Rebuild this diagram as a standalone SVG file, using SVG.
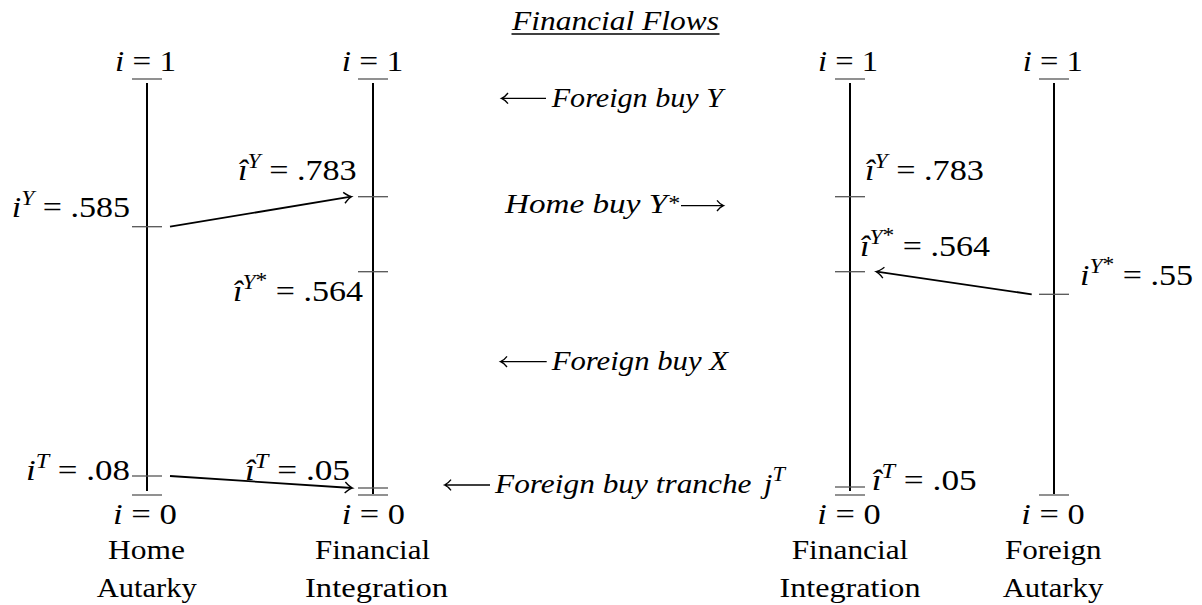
<svg xmlns="http://www.w3.org/2000/svg" width="1202" height="605" viewBox="0 0 1202 605">
<style>
text{font-family:'Liberation Serif','Times New Roman',serif;fill:#000}
.m{font-size:29px}
.l{font-size:28px}
.it{font-style:italic}
.s{font-size:20px;font-style:italic}
.ss{font-size:20px}
.ax{stroke:#000;stroke-width:2;fill:none}
.tk{stroke:#555;stroke-width:1.3;fill:none}
.cn{stroke:#000;stroke-width:1.8;fill:none}
.la{stroke:#000;stroke-width:1.3;fill:none}
</style>
<defs>
<marker id="ah" markerUnits="userSpaceOnUse" markerWidth="14" markerHeight="14" refX="0" refY="0" viewBox="-8 -7 10 14" orient="auto" overflow="visible">
<path d="M-7,-5.5 Q-2.5,-1 0.5,0 Q-2.5,1 -7,5.5" stroke="#000" stroke-width="1.4" fill="none"/>
</marker>
</defs>
<rect width="1202" height="605" fill="#fff"/>

<g id="title">
<text class="l it" x="615.5" y="30" text-anchor="middle" textLength="207" lengthAdjust="spacingAndGlyphs">Financial Flows</text>
<line x1="511.5" y1="34" x2="719.5" y2="34" stroke="#000" stroke-width="1.3"/>
</g>

<g id="col-home-autarky">
<line class="ax" x1="147" y1="83" x2="147" y2="491"/>
<line class="tk" x1="132" y1="79" x2="162" y2="79"/>
<line class="tk" x1="132" y1="226.7" x2="162" y2="226.7"/>
<line class="tk" x1="132" y1="476" x2="162" y2="476"/>
<line class="tk" x1="132" y1="495" x2="162" y2="495"/>
<text class="m" x="145.5" y="71" text-anchor="middle" textLength="61" lengthAdjust="spacingAndGlyphs"><tspan class="it">i</tspan> = 1</text>
<text class="m" x="145" y="524" text-anchor="middle" textLength="64" lengthAdjust="spacingAndGlyphs"><tspan class="it">i</tspan> = 0</text>
<text class="l" x="146.5" y="559" text-anchor="middle" textLength="77" lengthAdjust="spacingAndGlyphs">Home</text>
<text class="l" x="146.7" y="597" text-anchor="middle" textLength="100" lengthAdjust="spacingAndGlyphs">Autarky</text>
<text class="m" x="11.7" y="216.7" textLength="118.3" lengthAdjust="spacingAndGlyphs"><tspan class="it">i</tspan><tspan class="s" dy="-12">Y</tspan><tspan dy="12"> = .585</tspan></text>
<text class="m" x="26" y="480" textLength="104" lengthAdjust="spacingAndGlyphs"><tspan class="it">i</tspan><tspan class="s" dy="-12">T</tspan><tspan dy="12"> = .08</tspan></text>
</g>

<g id="col-home-integration">
<line class="ax" x1="373" y1="83" x2="373" y2="494"/>
<line class="tk" x1="358" y1="79" x2="388" y2="79"/>
<line class="tk" x1="358" y1="196.7" x2="388" y2="196.7"/>
<line class="tk" x1="358" y1="271.7" x2="388" y2="271.7"/>
<line class="tk" x1="358" y1="488" x2="388" y2="488"/>
<line class="tk" x1="358" y1="495" x2="388" y2="495"/>
<text class="m" x="372.5" y="71" text-anchor="middle" textLength="61.7" lengthAdjust="spacingAndGlyphs"><tspan class="it">i</tspan> = 1</text>
<text class="m" x="373.3" y="524" text-anchor="middle" textLength="63.3" lengthAdjust="spacingAndGlyphs"><tspan class="it">i</tspan> = 0</text>
<text class="l" x="372.5" y="559" text-anchor="middle" textLength="115" lengthAdjust="spacingAndGlyphs">Financial</text>
<text class="l" x="376.5" y="597" text-anchor="middle" textLength="143" lengthAdjust="spacingAndGlyphs">Integration</text>
<text class="m" x="238" y="180" textLength="118.7" lengthAdjust="spacingAndGlyphs"><tspan class="it">î</tspan><tspan class="s" dy="-12">Y</tspan><tspan dy="12"> = .783</tspan></text>
<text class="m" x="233" y="300.7" textLength="130" lengthAdjust="spacingAndGlyphs"><tspan class="it">î</tspan><tspan class="s" dy="-12">Y</tspan><tspan class="ss" dy="-2">*</tspan><tspan dy="14"> = .564</tspan></text>
<text class="m" x="245" y="480" textLength="105" lengthAdjust="spacingAndGlyphs"><tspan class="it">î</tspan><tspan class="s" dy="-12">T</tspan><tspan dy="12"> = .05</tspan></text>
</g>

<g id="col-foreign-integration">
<line class="ax" x1="850" y1="83" x2="850" y2="491"/>
<line class="tk" x1="835" y1="79" x2="865" y2="79"/>
<line class="tk" x1="835" y1="196.7" x2="865" y2="196.7"/>
<line class="tk" x1="835" y1="271.7" x2="865" y2="271.7"/>
<line class="tk" x1="835" y1="487" x2="865" y2="487"/>
<line class="tk" x1="835" y1="495" x2="865" y2="495"/>
<text class="m" x="848" y="71" text-anchor="middle" textLength="60" lengthAdjust="spacingAndGlyphs"><tspan class="it">i</tspan> = 1</text>
<text class="m" x="849" y="524" text-anchor="middle" textLength="63.3" lengthAdjust="spacingAndGlyphs"><tspan class="it">i</tspan> = 0</text>
<text class="l" x="850" y="559" text-anchor="middle" textLength="116.7" lengthAdjust="spacingAndGlyphs">Financial</text>
<text class="l" x="850" y="597" text-anchor="middle" textLength="141" lengthAdjust="spacingAndGlyphs">Integration</text>
<text class="m" x="865" y="180" textLength="119" lengthAdjust="spacingAndGlyphs"><tspan class="it">î</tspan><tspan class="s" dy="-12">Y</tspan><tspan dy="12"> = .783</tspan></text>
<text class="m" x="860" y="256" textLength="130" lengthAdjust="spacingAndGlyphs"><tspan class="it">î</tspan><tspan class="s" dy="-12">Y</tspan><tspan class="ss" dy="-2">*</tspan><tspan dy="14"> = .564</tspan></text>
<text class="m" x="871.7" y="490" textLength="105" lengthAdjust="spacingAndGlyphs"><tspan class="it">î</tspan><tspan class="s" dy="-12">T</tspan><tspan dy="12"> = .05</tspan></text>
</g>

<g id="col-foreign-autarky">
<line class="ax" x1="1054" y1="83" x2="1054" y2="494"/>
<line class="tk" x1="1039" y1="79" x2="1069" y2="79"/>
<line class="tk" x1="1039" y1="294.3" x2="1069" y2="294.3"/>
<line class="tk" x1="1039" y1="495" x2="1069" y2="495"/>
<text class="m" x="1052.7" y="71" text-anchor="middle" textLength="60" lengthAdjust="spacingAndGlyphs"><tspan class="it">i</tspan> = 1</text>
<text class="m" x="1053" y="524" text-anchor="middle" textLength="63.3" lengthAdjust="spacingAndGlyphs"><tspan class="it">i</tspan> = 0</text>
<text class="l" x="1053.3" y="559" text-anchor="middle" textLength="96.7" lengthAdjust="spacingAndGlyphs">Foreign</text>
<text class="l" x="1053" y="597" text-anchor="middle" textLength="100.6" lengthAdjust="spacingAndGlyphs">Autarky</text>
<text class="m" x="1080" y="285" textLength="113" lengthAdjust="spacingAndGlyphs"><tspan class="it">i</tspan><tspan class="s" dy="-12">Y</tspan><tspan class="ss" dy="-2">*</tspan><tspan dy="14"> = .55</tspan></text>
</g>

<g id="flows">
<path class="la" d="M502,98.3 H546 M508,93 Q505,97 501.5,98.3 Q505,99.6 508,103.6"/>
<text class="l it" x="551.7" y="106.7" textLength="171.3" lengthAdjust="spacingAndGlyphs">Foreign buy Y</text>
<text class="l it" x="505" y="213.3" textLength="174" lengthAdjust="spacingAndGlyphs">Home buy Y<tspan class="ss" dy="-3">*</tspan></text>
<path class="la" d="M681,205.7 H723 M717,200.4 Q720,204.4 723.5,205.7 Q720,207 717,211"/>
<path class="la" d="M501,361.7 H546.7 M507,356.4 Q504,360.4 500.5,361.7 Q504,363 507,367"/>
<text class="l it" x="551.7" y="370" textLength="176.3" lengthAdjust="spacingAndGlyphs">Foreign buy X</text>
<path class="la" d="M445,485 H490 M451,479.7 Q448,483.7 444.5,485 Q448,486.3 451,490.3"/>
<text class="l it" x="495" y="493.3" textLength="290" lengthAdjust="spacingAndGlyphs">Foreign buy tranche <tspan dx="4">j</tspan><tspan class="s" dy="-12">T</tspan></text>
</g>

<g id="connectors">
<line class="cn" x1="170" y1="226.7" x2="351" y2="196.7" marker-end="url(#ah)"/>
<line class="cn" x1="170" y1="476" x2="352" y2="488" marker-end="url(#ah)"/>
<line class="cn" x1="1031.7" y1="294.3" x2="876.7" y2="271.7" marker-end="url(#ah)"/>
</g>
</svg>
